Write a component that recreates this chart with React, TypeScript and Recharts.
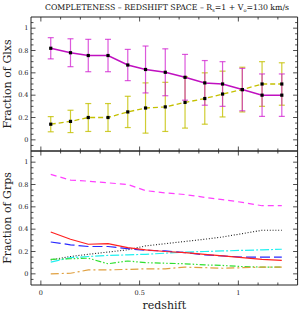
import React from 'react';
import { ComposedChart, Line, XAxis, YAxis, ErrorBar } from 'recharts';

// redshift bins (same for both panels)
const redshift = [0.05, 0.15, 0.24, 0.34, 0.44, 0.53, 0.63, 0.73, 0.83, 0.92, 1.02, 1.12, 1.22];

// top panel: fraction of galaxies
const glxMain = [0.82, 0.78, 0.755, 0.755, 0.67, 0.63, 0.605, 0.56, 0.51, 0.5, 0.45, 0.4, 0.4];
const glxMainErr = [0.095, 0.125, 0.145, 0.145, 0.14, 0.21, 0.21, 0.205, 0.2, 0.2, 0.19, 0.19, 0.19];
const glxAlt = [0.14, 0.165, 0.2, 0.2, 0.25, 0.285, 0.295, 0.335, 0.37, 0.41, 0.45, 0.5, 0.5];
const glxAltErr = [0.068, 0.1, 0.125, 0.125, 0.14, 0.225, 0.22, 0.23, 0.23, 0.205, 0.2, 0.2, 0.19];

// bottom panel: fraction of groups
const grpMagenta = [0.89, 0.84, 0.83, 0.815, 0.8, 0.745, 0.725, 0.71, 0.685, 0.665, 0.64, 0.61, 0.61];
const grpRed = [0.375, 0.31, 0.265, 0.27, 0.235, 0.215, 0.2, 0.19, 0.175, 0.16, 0.145, 0.13, 0.12];
const grpBlue = [0.285, 0.26, 0.245, 0.245, 0.225, 0.21, 0.205, 0.19, 0.17, 0.16, 0.15, 0.15, 0.15];
const grpBlack = [0.125, 0.155, 0.175, 0.195, 0.215, 0.25, 0.27, 0.29, 0.31, 0.33, 0.36, 0.39, 0.39];
const grpCyan = [0.105, 0.145, 0.155, 0.165, 0.17, 0.175, 0.185, 0.195, 0.2, 0.205, 0.21, 0.215, 0.22];
const grpGreen = [0.13, 0.135, 0.14, 0.09, 0.115, 0.1, 0.095, 0.09, 0.08, 0.075, 0.065, 0.06, 0.06];
const grpOrange = [0, 0.005, 0.035, 0.035, 0.04, 0.045, 0.045, 0.06, 0.055, 0.05, 0.055, 0.06, 0.06];

// ticks
const xMajor = [0, 0.5, 1];
const xMinor = [0, 0.1, 0.2, 0.3, 0.4, 0.5, 0.6, 0.7, 0.8, 0.9, 1, 1.1, 1.2];
const yMajor = [0, 0.2, 0.4, 0.6, 0.8, 1];
const yMinor = [-0.05, 0, 0.05, 0.1, 0.15, 0.2, 0.25, 0.3, 0.35, 0.4, 0.45, 0.5, 0.55, 0.6, 0.65, 0.7, 0.75, 0.8, 0.85, 0.9, 0.95, 1, 1.05];

const xDomain: [number, number] = [-0.05, 1.3];
const yDomain: [number, number] = [-0.1, 1.1];

const topRows = redshift.map((z, i) => ({
  z,
  main: glxMain[i],
  mainErr: glxMainErr[i],
  alt: glxAlt[i],
  altErr: glxAltErr[i],
}));

const bottomRows = redshift.map((z, i) => ({
  z,
  magenta: grpMagenta[i],
  red: grpRed[i],
  blue: grpBlue[i],
  black: grpBlack[i],
  cyan: grpCyan[i],
  green: grpGreen[i],
  orange: grpOrange[i],
}));

const FONT = '"DejaVu Serif", "Liberation Serif", serif';
const AXIS = '#222';

const isMajor = (v: number, majors: number[]) => majors.some((m) => Math.abs(m - v) < 1e-6);

// inward tick marks (plus labels when asked); tickSize 0 keeps x/y on the axis line
const makeTick = (side: 'left' | 'right' | 'top' | 'bottom', majors: number[], labels: boolean) => (props: any) => {
  const { x, y, payload } = props;
  const v = payload.value;
  const major = isMajor(v, majors);
  const len = major ? 4.5 : 2.5;
  let line;
  if (side === 'left') line = <line x1={x} x2={x + len} y1={y} y2={y} stroke={AXIS} strokeWidth={0.8} />;
  else if (side === 'right') line = <line x1={x} x2={x - len} y1={y} y2={y} stroke={AXIS} strokeWidth={0.8} />;
  else if (side === 'top') line = <line x1={x} x2={x} y1={y} y2={y + len} stroke={AXIS} strokeWidth={0.8} />;
  else line = <line x1={x} x2={x} y1={y} y2={y - len} stroke={AXIS} strokeWidth={0.8} />;
  let text = null;
  if (labels && major) {
    const label = String(Math.round(v * 10) / 10);
    if (side === 'left')
      text = (
        <text x={x - 2.5} y={y + 2.3} textAnchor="end" fontSize={6.5} fontFamily={FONT} fill="#222">
          {label}
        </text>
      );
    else
      text = (
        <text x={x} y={y + 10} textAnchor="middle" fontSize={6.5} fontFamily={FONT} fill="#222">
          {label}
        </text>
      );
  }
  return (
    <g>
      {line}
      {text}
    </g>
  );
};

const square = (props: any) => (
  <rect key={`sq-${props.index}`} x={props.cx - 1.6} y={props.cy - 1.6} width={3.2} height={3.2} fill="#000" />
);

const axisSet = (bottomLabels: boolean) => [
  <XAxis
    key="xb"
    xAxisId="b"
    type="number"
    dataKey="z"
    domain={xDomain}
    allowDataOverflow
    ticks={xMinor}
    interval={0}
    orientation="bottom"
    height={1}
    tickSize={0}
    tickMargin={0}
    tickLine={false}
    axisLine={{ stroke: AXIS, strokeWidth: 1 }}
    tick={makeTick('bottom', xMajor, bottomLabels)}
  />,
  <XAxis
    key="xt"
    xAxisId="t"
    type="number"
    dataKey="z"
    domain={xDomain}
    allowDataOverflow
    ticks={xMinor}
    interval={0}
    orientation="top"
    height={1}
    tickSize={0}
    tickMargin={0}
    tickLine={false}
    axisLine={{ stroke: AXIS, strokeWidth: 1 }}
    tick={makeTick('top', xMajor, false)}
  />,
  <YAxis
    key="yl"
    yAxisId="l"
    type="number"
    domain={yDomain}
    allowDataOverflow
    ticks={yMinor}
    interval={0}
    orientation="left"
    width={31}
    tickSize={0}
    tickMargin={0}
    tickLine={false}
    axisLine={{ stroke: AXIS, strokeWidth: 1 }}
    tick={makeTick('left', yMajor, true)}
  />,
  <YAxis
    key="yr"
    yAxisId="r"
    type="number"
    domain={yDomain}
    allowDataOverflow
    ticks={yMinor}
    interval={0}
    orientation="right"
    width={1}
    tickSize={0}
    tickMargin={0}
    tickLine={false}
    axisLine={{ stroke: AXIS, strokeWidth: 1 }}
    tick={makeTick('right', yMajor, false)}
  />,
];

export default function App() {
  return (
    <div style={{ position: 'absolute', left: 0, top: 0, width: 300, height: 314, background: '#fff' }}>
      <div style={{ position: 'absolute', left: 0, top: 0 }}>
        <ComposedChart width={300} height={152} data={topRows} margin={{ top: 16, right: 1.4, bottom: 0, left: 0 }}>
          {axisSet(false)}
          <Line
            xAxisId="b"
            yAxisId="l"
            dataKey="alt"
            type="linear"
            stroke="#c4c000"
            strokeWidth={1.3}
            strokeDasharray="5 3"
            dot={square}
            isAnimationActive={false}
          >
            <ErrorBar dataKey="altErr" direction="y" width={3} stroke="#c4c000" strokeWidth={1.2} strokeOpacity={0.8} />
          </Line>
          <Line
            xAxisId="b"
            yAxisId="l"
            dataKey="main"
            type="linear"
            stroke="#c010c0"
            strokeWidth={1.5}
            dot={square}
            isAnimationActive={false}
          >
            <ErrorBar dataKey="mainErr" direction="y" width={3} stroke="#d020d0" strokeWidth={1.2} strokeOpacity={0.75} />
          </Line>
        </ComposedChart>
      </div>
      <div style={{ position: 'absolute', left: 0, top: 150 }}>
        <ComposedChart width={300} height={164} data={bottomRows} margin={{ top: 0, right: 1.4, bottom: 28, left: 0 }}>
          {axisSet(true)}
          <Line xAxisId="b" yAxisId="l" dataKey="magenta" stroke="#ff40ff" strokeWidth={1.2} strokeDasharray="6 4" dot={false} isAnimationActive={false} />
          <Line xAxisId="b" yAxisId="l" dataKey="black" stroke="#222" strokeWidth={1.1} strokeDasharray="1 1.8" dot={false} isAnimationActive={false} />
          <Line xAxisId="b" yAxisId="l" dataKey="cyan" stroke="#20f0f0" strokeWidth={1.2} strokeDasharray="9 2 2 2" dot={false} isAnimationActive={false} />
          <Line xAxisId="b" yAxisId="l" dataKey="green" stroke="#30e030" strokeWidth={1.2} strokeDasharray="6 2 1.5 2 1.5 2" dot={false} isAnimationActive={false} />
          <Line xAxisId="b" yAxisId="l" dataKey="orange" stroke="#e0a040" strokeWidth={1.2} strokeDasharray="8 3 2 3" dot={false} isAnimationActive={false} />
          <Line xAxisId="b" yAxisId="l" dataKey="blue" stroke="#2828ff" strokeWidth={1.2} strokeDasharray="10 4" dot={false} isAnimationActive={false} />
          <Line xAxisId="b" yAxisId="l" dataKey="red" stroke="#ff2020" strokeWidth={1.2} dot={false} isAnimationActive={false} />
        </ComposedChart>
      </div>
      <svg width={300} height={314} style={{ position: 'absolute', left: 0, top: 0, pointerEvents: 'none' }}>
        <text x={167} y={10} textAnchor="middle" fontSize={7.8} fontFamily={FONT} fill="#111">
          COMPLETENESS – REDSHIFT SPACE – R<tspan fontSize={5} dy={1.5}>s</tspan>
          <tspan dy={-1.5}>=1 + V</tspan>
          <tspan fontSize={5} dy={1.5}>o</tspan>
          <tspan dy={-1.5}>=130 km/s</tspan>
        </text>
        <text transform="translate(10.5,84) rotate(-90)" textAnchor="middle" fontSize={11} fontFamily={FONT} fill="#222">
          Fraction of Glxs
        </text>
        <text transform="translate(10.5,218) rotate(-90)" textAnchor="middle" fontSize={11} fontFamily={FONT} fill="#222">
          Fraction of Grps
        </text>
        <text x={164.3} y={309} textAnchor="middle" fontSize={11} fontFamily={FONT} fill="#222">
          redshift
        </text>
      </svg>
    </div>
  );
}
